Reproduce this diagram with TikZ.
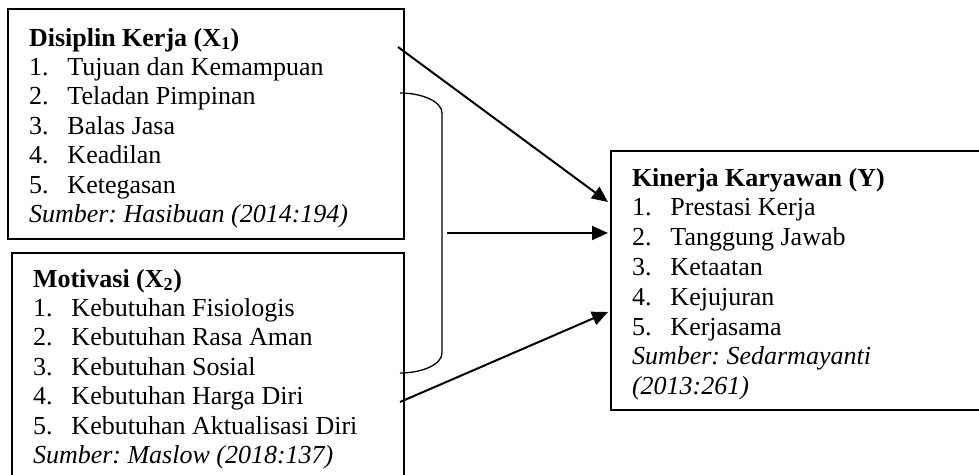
\documentclass[tikz,border=0pt]{standalone}
\usepackage{fontspec}
\setmainfont{Liberation Serif}
\usetikzlibrary{positioning,calc,arrows.meta}
\frenchspacing

% box contents: width, height, first baseline, text
\newcommand{\isi}[4]{\parbox[c][#2][t]{#1}{\leftskip=21pt\rule{0pt}{#3}\ignorespaces#4}}
\newcommand{\butir}[2]{\makebox[38.5pt][l]{#1}#2\par}

\begin{document}
\begin{tikzpicture}[x=1pt,y=-1pt,
font=\fontsize{26}{29.4}\selectfont,
faktor/.style={draw=black, line width=2pt, inner sep=0pt, outer sep=0pt, anchor=north west},
panah/.style={line width=2pt, -{Triangle[length=16pt,width=14pt]}},
kurung/.style={line width=1.3pt}
]
\path[use as bounding box] (0,0) rectangle (979,474);
\fill[white] (0,0) rectangle (979,474);

\node[faktor](disiplin_kerja) at (8,9){\isi{396pt}{230pt}{37pt}{%
\textbf{Disiplin Kerja (X\textsubscript{1})}\par
\butir{1.}{Tujuan dan Kemampuan}
\butir{2.}{Teladan Pimpinan}
\butir{3.}{Balas Jasa}
\butir{4.}{Keadilan}
\butir{5.}{Ketegasan}
\textit{Sumber: Hasibuan (2014:194)}}};

\node[faktor](motivasi)[below=14pt of disiplin_kerja.south west,anchor=north west,xshift=4pt]{\isi{392pt}{240pt}{34pt}{%
\textbf{Motivasi (X\textsubscript{2})}\par
\butir{1.}{Kebutuhan Fisiologis}
\butir{2.}{Kebutuhan Rasa Aman}
\butir{3.}{Kebutuhan Sosial}
\butir{4.}{Kebutuhan Harga Diri}
\butir{5.}{Kebutuhan Aktualisasi Diri}
\textit{Sumber: Maslow (2018:137)}}};

% right box runs past the page edge: no right side
\node[faktor,draw=none,font=\fontsize{26}{29.8}\selectfont](kinerja_karyawan) at (611,151){\isi{400pt}{259pt}{35pt}{%
\textbf{Kinerja Karyawan (Y)}\par
\butir{1.}{Prestasi Kerja}
\butir{2.}{Tanggung Jawab}
\butir{3.}{Ketaatan}
\butir{4.}{Kejujuran}
\butir{5.}{Kerjasama}
\textit{Sumber: Sedarmayanti\\(2013:261)}}};
\draw[line width=2pt] (kinerja_karyawan.north east) -- (kinerja_karyawan.north west) -- (kinerja_karyawan.south west) -- (kinerja_karyawan.south east);

% bracket joining both factors
\draw[kurung] ([xshift=-4pt,yshift=-84pt]disiplin_kerja.north east) .. controls +(23,0) and +(0,-11) .. ++(42,20)
  -- ++(0,240) .. controls +(0,11) and +(23,0) .. ++(-42,20);
\coordinate (kurung_tengah) at (447,233);

\draw[panah] ([xshift=-6pt,yshift=-38pt]disiplin_kerja.north east) -- ([xshift=-3pt,yshift=-51pt]kinerja_karyawan.north west);
\draw[panah] (kurung_tengah) -- ($(kurung_tengah -| kinerja_karyawan.west)+(-3,0)$);
\draw[panah] ([xshift=-4pt,yshift=-149pt]motivasi.north east) -- ([xshift=-3pt,yshift=-161pt]kinerja_karyawan.north west);
\end{tikzpicture}
\end{document}
